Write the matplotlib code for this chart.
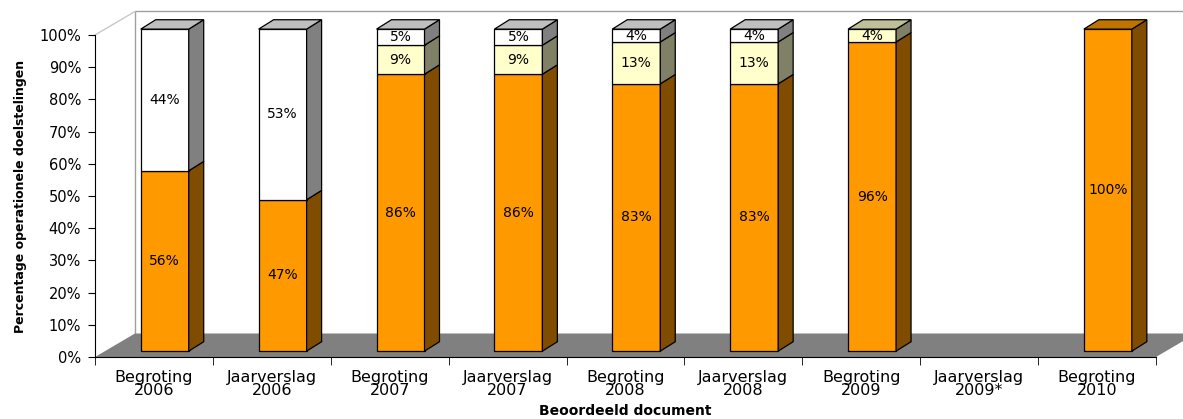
import numpy as np
import matplotlib.pyplot as plt
from matplotlib.patches import Polygon

categories = ['Begroting\n2006', 'Jaarverslag\n2006', 'Begroting\n2007', 'Jaarverslag\n2007',
              'Begroting\n2008', 'Jaarverslag\n2008', 'Begroting\n2009', 'Jaarverslag\n2009*',
              'Begroting\n2010']
orange = [56, 47, 86, 86, 83, 83, 96, 0, 100]
yellow = [0, 0, 9, 9, 13, 13, 4, 0, 0]
white = [44, 53, 5, 5, 4, 4, 0, 0, 0]

series = [orange, yellow, white]
colors = [np.array([1.0, 0.6, 0.0]), np.array([1.0, 1.0, 0.8]), np.array([1.0, 1.0, 1.0])]

fig = plt.figure(figsize=(11.83, 4.19), dpi=100)
ax = fig.add_axes([95 / 1183, 62 / 419, 1061 / 1183, 322 / 419])
n = len(categories)
ax.set_xlim(-0.5, n - 0.5)
ax.set_ylim(0, 100)

# depth of the 3d box (in data units)
dx, dy = 0.339, 7.3
# bars sit at 1/4 of the depth, and take 3/8 of it
ox, oy = 0.27 * dx, 0.25 * dy
bdx, bdy = 0.375 * dx, 0.4 * dy
bw = 0.407

# walls and floor
x0, x1 = -0.5, n - 0.5
ax.add_patch(Polygon([(x0 + dx, dy), (x1 + dx + 1, dy), (x1 + dx + 1, 100 + dy), (x0 + dx, 100 + dy)],
                     closed=True, fc='white', ec='none', clip_on=False, zorder=0))
ax.plot([x0 + dx, x0 + dx, x1 + dx + 1], [dy, 100 + dy, 100 + dy], color='#a0a0a0', lw=1,
        clip_on=False, zorder=1)
ax.plot([x0, x0 + dx], [100, 100 + dy], color='#c8c8c8', lw=1, clip_on=False, zorder=1)
ax.add_patch(Polygon([(x0, 0), (x1, 0), (x1 + dx, dy), (x0 + dx, dy)],
                     closed=True, fc='#808080', ec='none', clip_on=False, zorder=1))

for i in range(n):
    bottom = 0
    left = i - bw / 2 + ox
    right = i + bw / 2 + ox
    top_total = sum(s[i] for s in series)
    for s, c in zip(series, colors):
        v = s[i]
        if v == 0:
            continue
        b, t = bottom + oy, bottom + v + oy
        ax.add_patch(Polygon([(left, b), (right, b), (right, t), (left, t)], closed=True,
                             fc=c, ec='black', lw=0.9, clip_on=False, zorder=3))
        ax.add_patch(Polygon([(right, b), (right + bdx, b + bdy), (right + bdx, t + bdy), (right, t)],
                             closed=True, fc=c * 0.5, ec='black', lw=0.9, clip_on=False, zorder=3))
        if bottom + v >= top_total:
            ax.add_patch(Polygon([(left, t), (right, t), (right + bdx, t + bdy), (left + bdx, t + bdy)],
                                 closed=True, fc=c * 0.75, ec='black', lw=0.9, clip_on=False, zorder=3))
        ax.text(i + ox, (b + t) / 2, f'{v}%', ha='center', va='center', fontsize=10, zorder=4)
        bottom += v

for side in ['top', 'right']:
    ax.spines[side].set_visible(False)
ax.spines['left'].set_zorder(5)
ax.spines['bottom'].set_zorder(5)

ax.set_yticks(np.arange(0, 101, 10))
ax.set_yticklabels([f'{v}%' for v in range(0, 101, 10)], fontsize=10.5)
ax.set_xticks(np.arange(n))
ax.set_xticklabels(categories, fontsize=11.5, linespacing=0.9)
ax.set_xticks(np.arange(n + 1) - 0.5, minor=True)
ax.tick_params(axis='x', which='major', length=0, pad=9)
ax.tick_params(axis='x', which='minor', length=6, direction='out')
ax.tick_params(axis='y', length=5, direction='out', pad=5)

ax.set_ylabel('Percentage operationele doelstelingen', fontsize=9, fontweight='bold', labelpad=9)
ax.set_xlabel('Beoordeeld document', fontsize=10, fontweight='bold', labelpad=4)

fig.savefig('out.png', dpi=100)
